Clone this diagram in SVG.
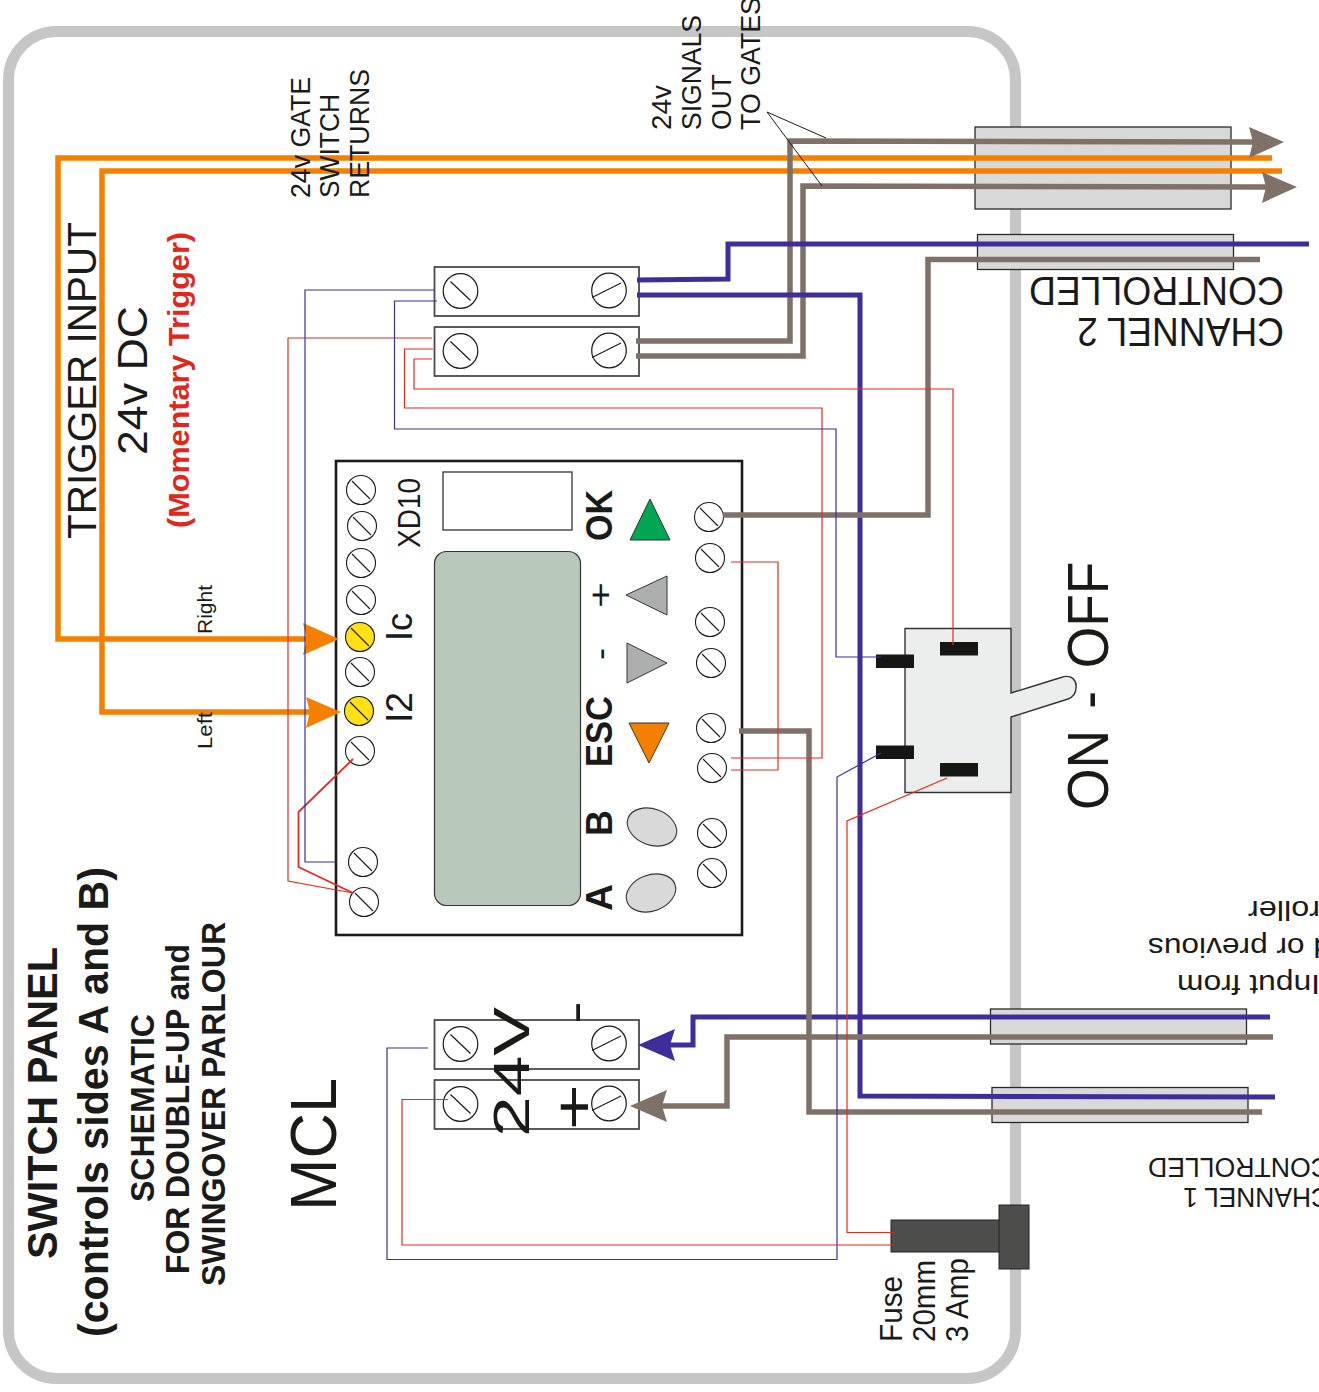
<svg xmlns="http://www.w3.org/2000/svg" width="1319" height="1392" viewBox="0 0 1319 1392">
<style>
text{font-family:"Liberation Sans",Arial,sans-serif;fill:#1a1a18;white-space:pre}
.b{font-weight:bold}
.w{fill:none;stroke-linejoin:miter}
.blue{stroke:#3e2d9b;stroke-width:5}
.brown{stroke:#7f7167;stroke-width:5.5}
.orange{stroke:#f58000;stroke-width:5.5}
.r{stroke:#e8291c;stroke-width:1.2}
.t{stroke:#3e2d9b;stroke-width:1.2}
.gate{fill:#d9d9d9;stroke:#2b2a29;stroke-width:1.3}
.blk{fill:#fff;stroke:#4a4a4a;stroke-width:1.8}
.bar{fill:#161714}
</style>
<defs>
<g id="ls"><circle r="17.3" fill="none" stroke="#1a1a18" stroke-width="1.2"/><line x1="-10" y1="-9.5" x2="10" y2="9.5" stroke="#1a1a18" stroke-width="1.2"/></g>
<g id="rs"><circle r="17.3" fill="none" stroke="#1a1a18" stroke-width="1.2"/><line x1="-17" y1="7" x2="12" y2="-7.5" stroke="#1a1a18" stroke-width="1.2"/></g>
<g id="ms"><circle r="14.5" fill="#fff" stroke="#1a1a18" stroke-width="1.1"/><line x1="-9" y1="-9" x2="9" y2="9" stroke="#1a1a18" stroke-width="1.1"/></g>
<g id="ys"><circle r="14.5" fill="#fde016" stroke="#1a1a18" stroke-width="1.1"/><line x1="-9" y1="-9" x2="9" y2="9" stroke="#1a1a18" stroke-width="1.1"/></g>
</defs>

<rect id="frame" x="8.5" y="31.5" width="1007" height="1347" rx="48" fill="none" stroke="#c6c6c6" stroke-width="11"/>

<g id="gate-top"><rect class="gate" x="975" y="127" width="256" height="82"/></g>
<g id="gate-ch2"><rect class="gate" x="977.500" y="234.500" width="256" height="35"/></g>
<g id="gate-in"><rect class="gate" x="990.500" y="1009" width="256" height="35"/></g>
<g id="gate-ch1"><rect class="gate" x="992" y="1087.500" width="256" height="35"/></g>

<g id="module">
<rect x="336" y="461" width="406" height="474" fill="#fff" stroke="#1a1a18" stroke-width="2.6"/>
<rect x="443" y="472" width="129" height="58" fill="#fff" stroke="#333" stroke-width="1.3"/>
<rect x="434.500" y="551.500" width="146" height="354" rx="12" fill="#b8c9bb" stroke="#333" stroke-width="1.2"/>
<use href="#ms" x="361" y="490"/><use href="#ms" x="362" y="526"/><use href="#ms" x="361" y="563"/><use href="#ms" x="361" y="600"/>
<use href="#ys" x="360" y="637"/><use href="#ms" x="360" y="672"/><use href="#ys" x="359" y="711"/><use href="#ms" x="360" y="751"/>
<use href="#ms" x="363" y="862"/><use href="#ms" x="364" y="902"/>
<use href="#ms" x="709" y="517"/><use href="#ms" x="710" y="558"/><use href="#ms" x="710" y="622"/><use href="#ms" x="711" y="663"/>
<use href="#ms" x="711" y="728"/><use href="#ms" x="712" y="768"/><use href="#ms" x="712" y="833"/><use href="#ms" x="712" y="873"/>
<polygon points="630,540 670,540 650,499" fill="#00a651" stroke="#333" stroke-width="1"/>
<polygon points="626,595 667,576 667,615" fill="#adafae" stroke="#333" stroke-width="1"/>
<polygon points="627,643 627,683 667,663" fill="#adafae" stroke="#333" stroke-width="1"/>
<polygon points="629,723 669,723 649,763" fill="#f58000" stroke="#333" stroke-width="1"/>
<ellipse cx="652" cy="827" rx="25.500" ry="18" transform="rotate(20 652 827)" fill="#d9d9d9" stroke="#333" stroke-width="1.1"/>
<ellipse cx="651" cy="893" rx="25.500" ry="18" transform="rotate(-20 651 893)" fill="#d9d9d9" stroke="#333" stroke-width="1.1"/>
</g>

<g id="block-1"><rect class="blk" x="434.500" y="267" width="204.500" height="49"/><use href="#ls" x="460.500" y="291"/><use href="#rs" x="609" y="290.500"/></g>
<g id="block-2"><rect class="blk" x="434.500" y="327" width="204.500" height="49"/><use href="#ls" x="460.500" y="351"/><use href="#rs" x="609" y="350.500"/></g>
<g id="block-3"><rect class="blk" x="434.500" y="1020" width="204.500" height="49"/><use href="#ls" x="460.500" y="1044"/><use href="#rs" x="609" y="1043.500"/></g>
<g id="block-4"><rect class="blk" x="434.500" y="1080" width="204.500" height="49"/><use href="#ls" x="460.500" y="1104"/><use href="#rs" x="609" y="1103.500"/></g>

<g id="switch">
<path d="M905,628.500H1011V693L1061,677.500C1072,673.500 1077,681 1076,688C1076,694 1073,697 1068,699L1011,717V792.500H905Z" fill="#eceeed" stroke="#333" stroke-width="1.4"/>
<rect class="bar" x="876" y="654.500" width="38" height="13.500"/>
<rect class="bar" x="876" y="745.500" width="38" height="13.500"/>
<rect class="bar" x="940" y="642" width="38" height="13.500"/>
<rect class="bar" x="940" y="763" width="38" height="13.500"/>
</g>

<g id="fuse">
<rect x="891" y="1220" width="109" height="32" fill="#4d4d4c" stroke="#222" stroke-width="1"/>
<rect x="999" y="1205" width="30" height="64" fill="#4d4d4c" stroke="#222" stroke-width="1"/>
</g>

<g id="connectors">
<polyline class="w orange" points="1272,158 58,158 58,639 310,639"/>
<polyline class="w orange" points="1282,171 102,171 102,712 313,712"/>
<polygon points="339,639 303,623 307,639 303,655" fill="#f58000"/>
<polygon points="341,712 306,697 310,712 306,728" fill="#f58000"/>
<polyline class="w brown" points="636,341 790,341 790,141 1255,142"/>
<polyline class="w brown" points="636,356 803,356 803,186 1268,187"/>
<polygon points="1284,142 1249,127 1253,142 1249,158" fill="#7f7167"/>
<polygon points="1297,187 1262,172 1266,187 1262,203" fill="#7f7167"/>
<polyline class="w blue" points="1309,244 728,244 728,279 637,280"/>
<polyline class="w blue" points="637,295 860,295 860,1096 1275,1097"/>
<polyline class="w brown" points="1260,259.500 928,259.500 928,515 723,515"/>
<polyline class="w blue" points="1270,1017 693,1017 693,1045 668,1045"/>
<polygon points="638,1045 675,1029 670,1045 675,1061" fill="#3e2d9b"/>
<polyline class="w brown" points="1273,1037 727,1037 727,1106 660,1106"/>
<polygon points="630,1106 667,1090 662,1106 667,1122" fill="#7f7167"/>
<polyline class="w brown" points="739,731 809,731 809,1112 1262,1112"/>
<polyline class="w r" points="953,645 953,389 414,389 414,359 432,359"/>
<polyline class="w r" points="433,349 404.500,349 404.500,408 822,408 822,758 731,758"/>
<polyline class="w r" points="731,562 778,562 778,770 731,770"/>
<polyline class="w r" points="432,338 288,338 288,881 353,893"/>
<polyline class="w" stroke="#e8291c" stroke-width="1.8" points="353,759 298.500,812 298.500,867 353,893"/>
<polyline class="w t" points="434,290 305,290 305,862 337,862"/>
<polyline class="w t" points="437,301 394.500,301 394.500,429 836,429 836,657 881,657"/>
<polyline class="w t" points="881,753 837,777 837,1259.500 387,1259.500 387,1048 428,1048"/>
<polyline class="w r" points="947,778 847,821 847,1232.500 893,1232.500"/>
<polyline class="w r" points="893,1245 402,1245 402,1099.500 448,1099.500"/>
<polyline class="w" stroke="#1a1a18" stroke-width="1" points="826,138 767,112 822,186"/>
</g>

<g id="labels">
<text class="b" transform="translate(56.500,1259) rotate(-90)" font-size="42" textLength="312" lengthAdjust="spacingAndGlyphs">SWITCH PANEL</text>
<text class="b" transform="translate(108,1337) rotate(-90)" font-size="42" textLength="470" lengthAdjust="spacingAndGlyphs">(controls sides A and B)</text>
<text class="b" transform="translate(153.500,1202) rotate(-90)" font-size="33" textLength="188" lengthAdjust="spacingAndGlyphs">SCHEMATIC</text>
<text class="b" transform="translate(189,1274) rotate(-90)" font-size="33" textLength="330" lengthAdjust="spacingAndGlyphs">FOR DOUBLE-UP and</text>
<text class="b" transform="translate(225,1286) rotate(-90)" font-size="33" textLength="364" lengthAdjust="spacingAndGlyphs">SWINGOVER PARLOUR</text>
<text transform="translate(336,1211) rotate(-90)" font-size="64" textLength="133" lengthAdjust="spacingAndGlyphs">MCL</text>
<text transform="translate(95.500,539) rotate(-90)" font-size="41" textLength="317" lengthAdjust="spacingAndGlyphs">TRIGGER INPUT</text>
<text transform="translate(147,455) rotate(-90)" font-size="42" textLength="149" lengthAdjust="spacingAndGlyphs">24v DC</text>
<text class="b" transform="translate(189,528) rotate(-90)" font-size="30" textLength="296" lengthAdjust="spacingAndGlyphs" style="fill:#e1271b">(Momentary Trigger)</text>
<text transform="translate(212,634) rotate(-90)" font-size="20" textLength="49" lengthAdjust="spacingAndGlyphs">Right</text>
<text transform="translate(212,749) rotate(-90)" font-size="20" textLength="37" lengthAdjust="spacingAndGlyphs">Left</text>
<text transform="translate(309.500,198) rotate(-90)" font-size="27" textLength="121" lengthAdjust="spacingAndGlyphs">24v GATE</text>
<text transform="translate(339,198) rotate(-90)" font-size="27" textLength="104" lengthAdjust="spacingAndGlyphs">SWITCH</text>
<text transform="translate(369,198) rotate(-90)" font-size="27" textLength="129" lengthAdjust="spacingAndGlyphs">RETURNS</text>
<text transform="translate(671,130) rotate(-90)" font-size="27" textLength="45" lengthAdjust="spacingAndGlyphs">24v</text>
<text transform="translate(701,130) rotate(-90)" font-size="27" textLength="115" lengthAdjust="spacingAndGlyphs">SIGNALS</text>
<text transform="translate(730.500,130) rotate(-90)" font-size="27" textLength="56" lengthAdjust="spacingAndGlyphs">OUT</text>
<text transform="translate(760,130) rotate(-90)" font-size="27" textLength="133" lengthAdjust="spacingAndGlyphs">TO GATES</text>
<text transform="translate(420,548) rotate(-90)" font-size="32" textLength="70" lengthAdjust="spacingAndGlyphs">XD10</text>
<text transform="translate(412,641) rotate(-90)" font-size="36" textLength="28" lengthAdjust="spacingAndGlyphs">Ic</text>
<text transform="translate(412,723) rotate(-90)" font-size="36" textLength="31" lengthAdjust="spacingAndGlyphs">I2</text>
<text class="b" transform="translate(612,541) rotate(-90)" font-size="36" textLength="51" lengthAdjust="spacingAndGlyphs">OK</text>
<text transform="translate(612,608) rotate(-90)" font-size="34" textLength="26" lengthAdjust="spacingAndGlyphs">+</text>
<text transform="translate(612,660) rotate(-90)" font-size="34" textLength="12" lengthAdjust="spacingAndGlyphs">-</text>
<text class="b" transform="translate(612,767) rotate(-90)" font-size="36" textLength="71" lengthAdjust="spacingAndGlyphs">ESC</text>
<text class="b" transform="translate(612,836) rotate(-90)" font-size="36" textLength="26" lengthAdjust="spacingAndGlyphs">B</text>
<text class="b" transform="translate(612,911) rotate(-90)" font-size="36" textLength="27" lengthAdjust="spacingAndGlyphs">A</text>
<text transform="translate(529,1137) rotate(-90)" font-size="50" textLength="130" lengthAdjust="spacingAndGlyphs">24V</text>
<text transform="translate(591,1024) rotate(-90)" font-size="48" textLength="23" lengthAdjust="spacingAndGlyphs">-</text>
<text transform="translate(593,1130) rotate(-90)" font-size="56" textLength="46" lengthAdjust="spacingAndGlyphs">+</text>
<text transform="translate(1107.500,810) rotate(-90) scale(.92,1)" font-size="58"><tspan x="0">ON </tspan><tspan x="110">- </tspan><tspan x="154">OFF</tspan></text>
<text transform="translate(902,1342) rotate(-90)" font-size="31" textLength="66" lengthAdjust="spacingAndGlyphs">Fuse</text>
<text transform="translate(935,1342) rotate(-90)" font-size="31" textLength="82" lengthAdjust="spacingAndGlyphs">20mm</text>
<text transform="translate(968,1342) rotate(-90)" font-size="31" textLength="84" lengthAdjust="spacingAndGlyphs">3 Amp</text>
<text transform="translate(1284,277) rotate(180)" font-size="40" textLength="255" lengthAdjust="spacingAndGlyphs">CONTROLLED</text>
<text transform="translate(1284,318) rotate(180)" font-size="40" textLength="207" lengthAdjust="spacingAndGlyphs">CHANNEL 2</text>
<text transform="translate(1330,1158) rotate(180)" font-size="28" textLength="182" lengthAdjust="spacingAndGlyphs">CONTROLLED</text>
<text transform="translate(1330,1188) rotate(180)" font-size="28" textLength="147" lengthAdjust="spacingAndGlyphs">CHANNEL 1</text>
<text transform="translate(1320,975) rotate(180)" font-size="28" textLength="143" lengthAdjust="spacingAndGlyphs">Input from</text>
<text transform="translate(1331,938) rotate(180)" font-size="28" textLength="183" lengthAdjust="spacingAndGlyphs">d or previous</text>
<text transform="translate(1320,901) rotate(180)" font-size="28" textLength="72" lengthAdjust="spacingAndGlyphs">roller</text>
</g>
</svg>
